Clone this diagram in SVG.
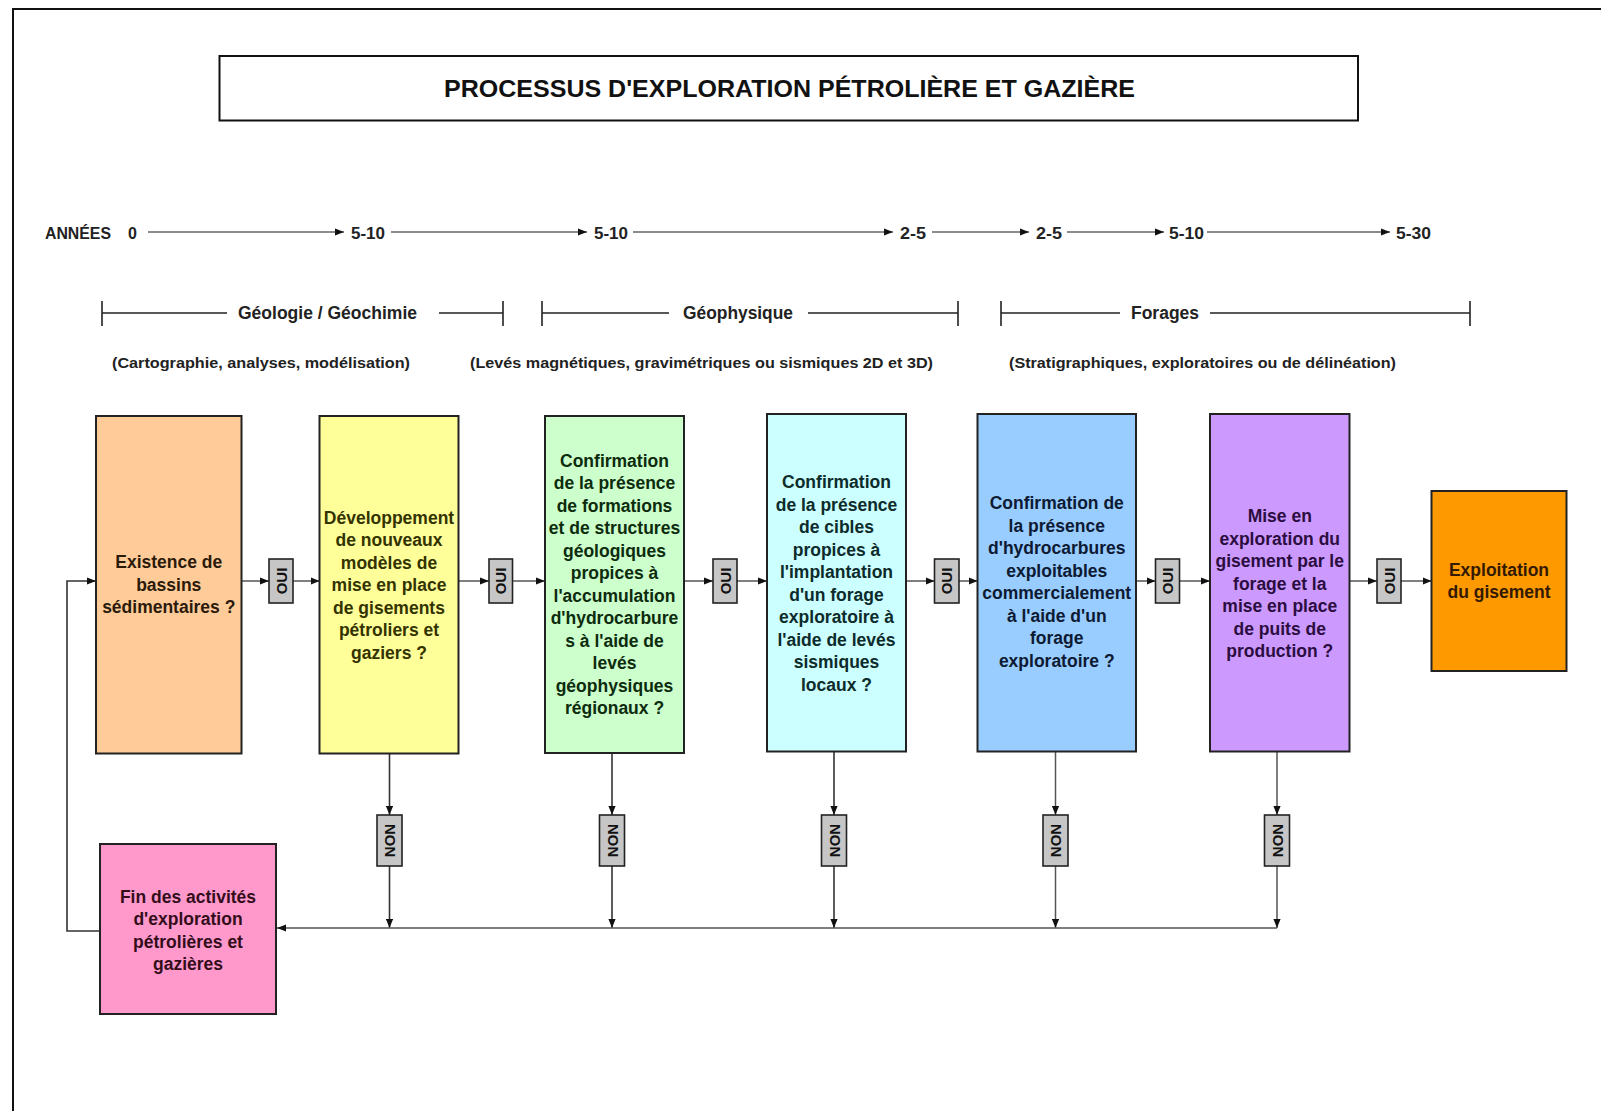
<svg xmlns="http://www.w3.org/2000/svg" width="1601" height="1111" viewBox="0 0 1601 1111">
<style>
.frame{fill:none;stroke:#111;stroke-width:2}
.box{stroke:#222;stroke-width:2}
.bt{font-family:"Liberation Sans",Arial,sans-serif;font-weight:bold;font-size:17.5px;text-anchor:middle}
.hdr{font-family:"Liberation Sans",Arial,sans-serif;font-weight:bold;font-size:17.5px;fill:#222;text-anchor:middle}
.sub{font-family:"Liberation Sans",Arial,sans-serif;font-weight:bold;font-size:15px;fill:#222;text-anchor:middle}
.ax{font-family:"Liberation Sans",Arial,sans-serif;font-weight:bold;font-size:16px;fill:#222}
.axl{stroke:#666;stroke-width:1.5;fill:none}
.brk{stroke:#222;stroke-width:1.6;fill:none}
.con{stroke:#555;stroke-width:1.5;fill:none}
.vcon{stroke:#333;stroke-width:1.6;fill:none}
.tag{fill:#c6c6c6;stroke:#222;stroke-width:1.6}
.tagt{font-family:"Liberation Sans",Arial,sans-serif;font-weight:bold;font-size:15px;fill:#111;text-anchor:middle}
</style>
<defs>
<marker id="ah" viewBox="0 0 10 8" refX="10" refY="4" markerWidth="9" markerHeight="7.2" markerUnits="userSpaceOnUse" orient="auto">
<path d="M0,0 L10,4 L0,8 z" fill="#111"/>
</marker>
</defs>
<rect width="1601" height="1111" fill="#ffffff"/>
<!-- frame -->
<polyline class="frame" points="13,1111 13,9 1601,9"/>
<!-- title -->
<g id="title">
<rect x="219.5" y="56" width="1138.5" height="64.5" fill="#fff" stroke="#111" stroke-width="2"/>
<text x="789.5" y="97" font-family="Liberation Sans, Arial, sans-serif" font-weight="bold" font-size="23" fill="#111" text-anchor="middle" textLength="691" lengthAdjust="spacingAndGlyphs">PROCESSUS D'EXPLORATION PÉTROLIÈRE ET GAZIÈRE</text>
</g>
<!-- time axis -->
<g id="axis">
<text class="ax" x="45" y="239" font-size="14" textLength="66" lengthAdjust="spacingAndGlyphs">ANNÉES</text>
<text class="ax" x="128" y="239">0</text>
<line class="axl" x1="148" y1="232" x2="344" y2="232" marker-end="url(#ah)"/>
<text class="ax" x="351" y="239" textLength="34" lengthAdjust="spacingAndGlyphs">5-10</text>
<line class="axl" x1="391" y1="232" x2="587" y2="232" marker-end="url(#ah)"/>
<text class="ax" x="594" y="239" textLength="34" lengthAdjust="spacingAndGlyphs">5-10</text>
<line class="axl" x1="633" y1="232" x2="893" y2="232" marker-end="url(#ah)"/>
<text class="ax" x="900" y="239" textLength="26" lengthAdjust="spacingAndGlyphs">2-5</text>
<line class="axl" x1="932" y1="232" x2="1029" y2="232" marker-end="url(#ah)"/>
<text class="ax" x="1036" y="239" textLength="26" lengthAdjust="spacingAndGlyphs">2-5</text>
<line class="axl" x1="1067" y1="232" x2="1164" y2="232" marker-end="url(#ah)"/>
<text class="ax" x="1169" y="239" textLength="35" lengthAdjust="spacingAndGlyphs">5-10</text>
<line class="axl" x1="1207" y1="232" x2="1390" y2="232" marker-end="url(#ah)"/>
<text class="ax" x="1396" y="239" textLength="35" lengthAdjust="spacingAndGlyphs">5-30</text>
</g>
<!-- phase brackets -->
<g id="phase-geologie">
<path class="brk" d="M102,301 V326 M102,313 H227 M439,313 H503 M503,301 V326"/>
<text class="hdr" x="327.5" y="319" textLength="179" lengthAdjust="spacingAndGlyphs">Géologie / Géochimie</text>
<text class="sub" x="261" y="368" textLength="298" lengthAdjust="spacingAndGlyphs">(Cartographie, analyses, modélisation)</text>
</g>
<g id="phase-geophysique">
<path class="brk" d="M542,301 V326 M542,313 H669 M808,313 H958 M958,301 V326"/>
<text class="hdr" x="738" y="319" textLength="110" lengthAdjust="spacingAndGlyphs">Géophysique</text>
<text class="sub" x="701.5" y="368" textLength="463" lengthAdjust="spacingAndGlyphs">(Levés magnétiques, gravimétriques ou sismiques 2D et 3D)</text>
</g>
<g id="phase-forages">
<path class="brk" d="M1001,301 V326 M1001,313 H1120 M1210,313 H1470 M1470,301 V326"/>
<text class="hdr" x="1165" y="319" textLength="68" lengthAdjust="spacingAndGlyphs">Forages</text>
<text class="sub" x="1202.5" y="368" textLength="387" lengthAdjust="spacingAndGlyphs">(Stratigraphiques, exploratoires ou de délinéation)</text>
</g>
<!-- connectors -->
<g id="connectors">
<line class="con" x1="241.5" y1="581" x2="269" y2="581" marker-end="url(#ah)"/>
<line class="con" x1="293" y1="581" x2="319.5" y2="581" marker-end="url(#ah)"/>
<line class="con" x1="458.5" y1="581" x2="489" y2="581" marker-end="url(#ah)"/>
<line class="con" x1="512.5" y1="581" x2="545" y2="581" marker-end="url(#ah)"/>
<line class="con" x1="684" y1="581" x2="713" y2="581" marker-end="url(#ah)"/>
<line class="con" x1="737" y1="581" x2="767" y2="581" marker-end="url(#ah)"/>
<line class="con" x1="906" y1="581" x2="934.5" y2="581" marker-end="url(#ah)"/>
<line class="con" x1="959" y1="581" x2="977.5" y2="581" marker-end="url(#ah)"/>
<line class="con" x1="1136" y1="581" x2="1155.5" y2="581" marker-end="url(#ah)"/>
<line class="con" x1="1179.5" y1="581" x2="1210" y2="581" marker-end="url(#ah)"/>
<line class="con" x1="1349.5" y1="581" x2="1377" y2="581" marker-end="url(#ah)"/>
<line class="con" x1="1401" y1="581" x2="1431.5" y2="581" marker-end="url(#ah)"/>
<!-- NON drops -->
<line class="vcon" x1="389.5" y1="753.5" x2="389.5" y2="815" marker-end="url(#ah)"/>
<line class="vcon" x1="389.5" y1="866" x2="389.5" y2="928" marker-end="url(#ah)"/>
<line class="vcon" x1="612" y1="753" x2="612" y2="815" marker-end="url(#ah)"/>
<line class="vcon" x1="612" y1="866" x2="612" y2="928" marker-end="url(#ah)"/>
<line class="vcon" x1="834" y1="751.5" x2="834" y2="815" marker-end="url(#ah)"/>
<line class="vcon" x1="834" y1="866" x2="834" y2="928" marker-end="url(#ah)"/>
<line class="con" x1="1055.5" y1="751.5" x2="1055.5" y2="815" marker-end="url(#ah)"/>
<line class="con" x1="1055.5" y1="866" x2="1055.5" y2="928" marker-end="url(#ah)"/>
<line class="con" x1="1277" y1="751.5" x2="1277" y2="815" marker-end="url(#ah)"/>
<line class="con" x1="1277" y1="866" x2="1277" y2="928" marker-end="url(#ah)"/>
<!-- collector -->
<line class="con" x1="1277" y1="928" x2="277" y2="928" marker-end="url(#ah)"/>
<!-- loop back -->
<polyline class="vcon" points="100,931 67,931 67,581 96,581" marker-end="url(#ah)"/>
</g>
<!-- OUI tags -->
<g id="oui-1"><rect class="tag" x="269" y="559" width="24" height="44"/><text class="tagt" transform="translate(281,581) rotate(-90)" y="5.5">OUI</text></g>
<g id="oui-2"><rect class="tag" x="489" y="559" width="23.5" height="44"/><text class="tagt" transform="translate(500.7,581) rotate(-90)" y="5.5">OUI</text></g>
<g id="oui-3"><rect class="tag" x="713" y="559" width="24" height="44"/><text class="tagt" transform="translate(725,581) rotate(-90)" y="5.5">OUI</text></g>
<g id="oui-4"><rect class="tag" x="934.5" y="559" width="24.5" height="44"/><text class="tagt" transform="translate(946.7,581) rotate(-90)" y="5.5">OUI</text></g>
<g id="oui-5"><rect class="tag" x="1155.5" y="559" width="24" height="44"/><text class="tagt" transform="translate(1167.5,581) rotate(-90)" y="5.5">OUI</text></g>
<g id="oui-6"><rect class="tag" x="1377" y="559" width="24" height="44"/><text class="tagt" transform="translate(1389,581) rotate(-90)" y="5.5">OUI</text></g>
<!-- NON tags -->
<g id="non-1"><rect class="tag" x="377" y="815" width="25" height="51"/><text class="tagt" transform="translate(389.5,840.5) rotate(-90)" y="5.5">NON</text></g>
<g id="non-2"><rect class="tag" x="599.5" y="815" width="25" height="51"/><text class="tagt" transform="translate(612,840.5) rotate(-90)" y="5.5">NON</text></g>
<g id="non-3"><rect class="tag" x="821.5" y="815" width="25" height="51"/><text class="tagt" transform="translate(834,840.5) rotate(-90)" y="5.5">NON</text></g>
<g id="non-4"><rect class="tag" x="1043" y="815" width="25" height="51"/><text class="tagt" transform="translate(1055.5,840.5) rotate(-90)" y="5.5">NON</text></g>
<g id="non-5"><rect class="tag" x="1264.5" y="815" width="25" height="51"/><text class="tagt" transform="translate(1277,840.5) rotate(-90)" y="5.5">NON</text></g>
<!-- nodes -->
<g id="node-bassins">
<rect class="box" x="96" y="416" width="145.5" height="337.5" fill="#FFCC99"/>
<text class="bt" fill="#2b1a0a"><tspan x="168.75" y="568">Existence de</tspan><tspan x="168.75" dy="22.5">bassins</tspan><tspan x="168.75" dy="22.5">sédimentaires ?</tspan></text>
</g>
<g id="node-modeles">
<rect class="box" x="319.5" y="416" width="139" height="337.5" fill="#FFFF99"/>
<text class="bt" fill="#333300"><tspan x="389" y="523.5">Développement</tspan><tspan x="389" dy="22.5">de nouveaux</tspan><tspan x="389" dy="22.5">modèles de</tspan><tspan x="389" dy="22.5">mise en place</tspan><tspan x="389" dy="22.5">de gisements</tspan><tspan x="389" dy="22.5">pétroliers et</tspan><tspan x="389" dy="22.5">gaziers ?</tspan></text>
</g>
<g id="node-formations">
<rect class="box" x="545" y="416" width="139" height="337" fill="#CCFFCC"/>
<text class="bt" fill="#0d2b0d"><tspan x="614.5" y="466.75">Confirmation</tspan><tspan x="614.5" dy="22.5">de la présence</tspan><tspan x="614.5" dy="22.5">de formations</tspan><tspan x="614.5" dy="22.5">et de structures</tspan><tspan x="614.5" dy="22.5">géologiques</tspan><tspan x="614.5" dy="22.5">propices à</tspan><tspan x="614.5" dy="22.5">l'accumulation</tspan><tspan x="614.5" dy="22.5">d'hydrocarbure</tspan><tspan x="614.5" dy="22.5">s à l'aide de</tspan><tspan x="614.5" dy="22.5">levés</tspan><tspan x="614.5" dy="22.5">géophysiques</tspan><tspan x="614.5" dy="22.5">régionaux ?</tspan></text>
</g>
<g id="node-cibles">
<rect class="box" x="767" y="414" width="139" height="337.5" fill="#CCFFFF"/>
<text class="bt" fill="#0d2b2b"><tspan x="836.5" y="488.25">Confirmation</tspan><tspan x="836.5" dy="22.5">de la présence</tspan><tspan x="836.5" dy="22.5">de cibles</tspan><tspan x="836.5" dy="22.5">propices à</tspan><tspan x="836.5" dy="22.5">l'implantation</tspan><tspan x="836.5" dy="22.5">d'un forage</tspan><tspan x="836.5" dy="22.5">exploratoire à</tspan><tspan x="836.5" dy="22.5">l'aide de levés</tspan><tspan x="836.5" dy="22.5">sismiques</tspan><tspan x="836.5" dy="22.5">locaux ?</tspan></text>
</g>
<g id="node-hydrocarbures">
<rect class="box" x="977.5" y="414" width="158.5" height="337.5" fill="#99CCFF"/>
<text class="bt" fill="#0d1a33"><tspan x="1056.75" y="509.25">Confirmation de</tspan><tspan x="1056.75" dy="22.5">la présence</tspan><tspan x="1056.75" dy="22.5">d'hydrocarbures</tspan><tspan x="1056.75" dy="22.5">exploitables</tspan><tspan x="1056.75" dy="22.5">commercialement</tspan><tspan x="1056.75" dy="22.5">à l'aide d'un</tspan><tspan x="1056.75" dy="22.5">forage</tspan><tspan x="1056.75" dy="22.5">exploratoire ?</tspan></text>
</g>
<g id="node-production">
<rect class="box" x="1210" y="414" width="139.5" height="337.5" fill="#CC99FF"/>
<text class="bt" fill="#2b0d40"><tspan x="1279.75" y="522">Mise en</tspan><tspan x="1279.75" dy="22.5">exploration du</tspan><tspan x="1279.75" dy="22.5">gisement par le</tspan><tspan x="1279.75" dy="22.5">forage et la</tspan><tspan x="1279.75" dy="22.5">mise en place</tspan><tspan x="1279.75" dy="22.5">de puits de</tspan><tspan x="1279.75" dy="22.5">production ?</tspan></text>
</g>
<g id="node-exploitation">
<rect class="box" x="1431.5" y="491" width="135" height="180" fill="#FF9900"/>
<text class="bt" fill="#331a00"><tspan x="1499" y="575.75">Exploitation</tspan><tspan x="1499" dy="22.5">du gisement</tspan></text>
</g>
<g id="node-fin">
<rect class="box" x="100" y="844" width="176" height="170" fill="#FF99CC"/>
<text class="bt" fill="#330d1a"><tspan x="188" y="902.75">Fin des activités</tspan><tspan x="188" dy="22.5">d'exploration</tspan><tspan x="188" dy="22.5">pétrolières et</tspan><tspan x="188" dy="22.5">gazières</tspan></text>
</g>
</svg>
